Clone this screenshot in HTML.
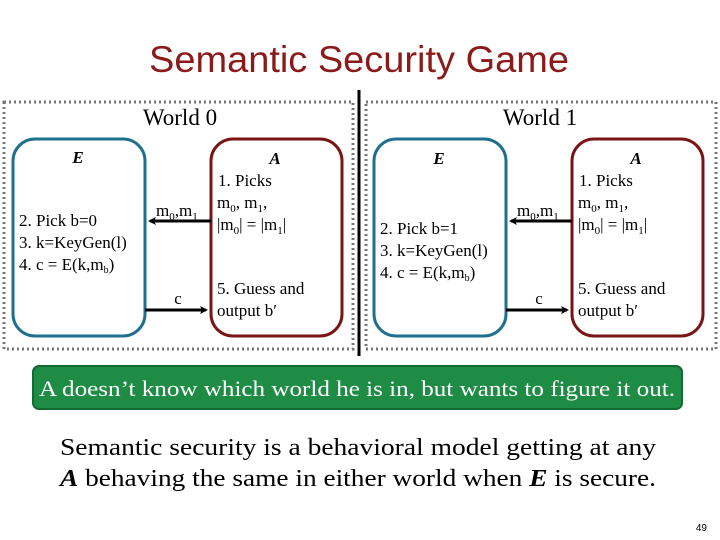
<!DOCTYPE html>
<html><head><meta charset="utf-8"><style>
body{margin:0;width:720px;height:540px;background:#fff;overflow:hidden}
svg{display:block}
text{font-family:"Liberation Serif",serif;fill:#000}
</style></head><body>
<svg width="720" height="540" viewBox="0 0 720 540">
<defs><marker id="ah" markerWidth="8" markerHeight="8" refX="6" refY="4" orient="auto" markerUnits="userSpaceOnUse"><path d="M0,0 L8,4 L0,8 L2,4 Z" fill="#000"/></marker></defs>
<text x="359" y="72" text-anchor="middle" style="font-family:'Liberation Sans',sans-serif;font-size:37px;fill:#8b1a1a" textLength="420" lengthAdjust="spacingAndGlyphs">Semantic Security Game</text>
<rect x="4" y="102" width="349" height="247" fill="none" stroke="#777" stroke-width="3" stroke-dasharray="2,3"/>
<rect x="366" y="102" width="350" height="247" fill="none" stroke="#777" stroke-width="3" stroke-dasharray="2,3"/>
<line x1="359" y1="90" x2="359" y2="356" stroke="#000" stroke-width="3"/>
<text x="180" y="125" text-anchor="middle" font-size="23">World 0</text>
<text x="540" y="125" text-anchor="middle" font-size="23">World 1</text>
<g id="w0">
<rect x="13" y="139" width="132" height="197" rx="22" fill="none" stroke="#1f6f8f" stroke-width="3"/>
<rect x="211" y="139" width="131" height="197" rx="22" fill="none" stroke="#7a1515" stroke-width="3"/>
<text x="78" y="163" text-anchor="middle" font-size="17" font-weight="bold" font-style="italic">E</text>
<text x="275" y="164" text-anchor="middle" font-size="17" font-weight="bold" font-style="italic">A</text>
<text x="218" y="186" font-size="17">1. Picks</text>
<text x="217" y="208" font-size="17">m<tspan font-size="11" dy="4">0</tspan><tspan dy="-4">, m</tspan><tspan font-size="11" dy="4">1</tspan><tspan dy="-4">,</tspan></text>
<text x="217" y="230" font-size="17">|m<tspan font-size="11" dy="4">0</tspan><tspan dy="-4">| = |m</tspan><tspan font-size="11" dy="4">1</tspan><tspan dy="-4">|</tspan></text>
<text x="19" y="226" font-size="17">2. Pick b=0</text>
<text x="19" y="248" font-size="17">3. k=KeyGen(l)</text>
<text x="19" y="270" font-size="17">4. c = E(k,m<tspan font-size="10" dy="3">b</tspan><tspan dy="-3">)</tspan></text>
<text x="217" y="294" font-size="17">5. Guess and</text>
<text x="217" y="316" font-size="17">output b′</text>
<text x="156" y="216" font-size="17">m<tspan font-size="11" dy="4">0</tspan><tspan dy="-4">,m</tspan><tspan font-size="11" dy="4">1</tspan></text>
<text x="178" y="304" text-anchor="middle" font-size="17">c</text>
<line x1="211" y1="221" x2="150" y2="221" stroke="#000" stroke-width="3" marker-end="url(#ah)"/>
<line x1="145" y1="310" x2="206" y2="310" stroke="#000" stroke-width="3" marker-end="url(#ah)"/>
</g>
<g transform="translate(361,0)">
<rect x="13" y="139" width="132" height="197" rx="22" fill="none" stroke="#1f6f8f" stroke-width="3"/>
<rect x="211" y="139" width="131" height="197" rx="22" fill="none" stroke="#7a1515" stroke-width="3"/>
<text x="78" y="164" text-anchor="middle" font-size="17" font-weight="bold" font-style="italic">E</text>
<text x="275" y="164" text-anchor="middle" font-size="17" font-weight="bold" font-style="italic">A</text>
<text x="218" y="186" font-size="17">1. Picks</text>
<text x="217" y="208" font-size="17">m<tspan font-size="11" dy="4">0</tspan><tspan dy="-4">, m</tspan><tspan font-size="11" dy="4">1</tspan><tspan dy="-4">,</tspan></text>
<text x="217" y="230" font-size="17">|m<tspan font-size="11" dy="4">0</tspan><tspan dy="-4">| = |m</tspan><tspan font-size="11" dy="4">1</tspan><tspan dy="-4">|</tspan></text>
<text x="19" y="234" font-size="17">2. Pick b=1</text>
<text x="19" y="256" font-size="17">3. k=KeyGen(l)</text>
<text x="19" y="278" font-size="17">4. c = E(k,m<tspan font-size="10" dy="3">b</tspan><tspan dy="-3">)</tspan></text>
<text x="217" y="294" font-size="17">5. Guess and</text>
<text x="217" y="316" font-size="17">output b′</text>
<text x="156" y="216" font-size="17">m<tspan font-size="11" dy="4">0</tspan><tspan dy="-4">,m</tspan><tspan font-size="11" dy="4">1</tspan></text>
<text x="178" y="304" text-anchor="middle" font-size="17">c</text>
<line x1="211" y1="221" x2="150" y2="221" stroke="#000" stroke-width="3" marker-end="url(#ah)"/>
<line x1="145" y1="310" x2="206" y2="310" stroke="#000" stroke-width="3" marker-end="url(#ah)"/>
</g>
<rect x="33" y="366" width="649" height="43" rx="6" fill="#1e8c45" stroke="#146b32" stroke-width="2"/>
<text x="357" y="396" text-anchor="middle" font-size="22" style="fill:#fff" textLength="636" lengthAdjust="spacingAndGlyphs">A doesn’t know which world he is in, but wants to figure it out.</text>
<text x="60" y="455" font-size="24" textLength="596" lengthAdjust="spacingAndGlyphs">Semantic security is a behavioral model getting at any</text>
<text x="60" y="486" font-size="24" textLength="596" lengthAdjust="spacingAndGlyphs"><tspan font-weight="bold" font-style="italic">A</tspan> behaving the same in either world when <tspan font-weight="bold" font-style="italic">E</tspan> is secure.</text>
<text x="707" y="531" text-anchor="end" font-size="10" style="font-family:'Liberation Sans',sans-serif">49</text>
</svg>
</body></html>
